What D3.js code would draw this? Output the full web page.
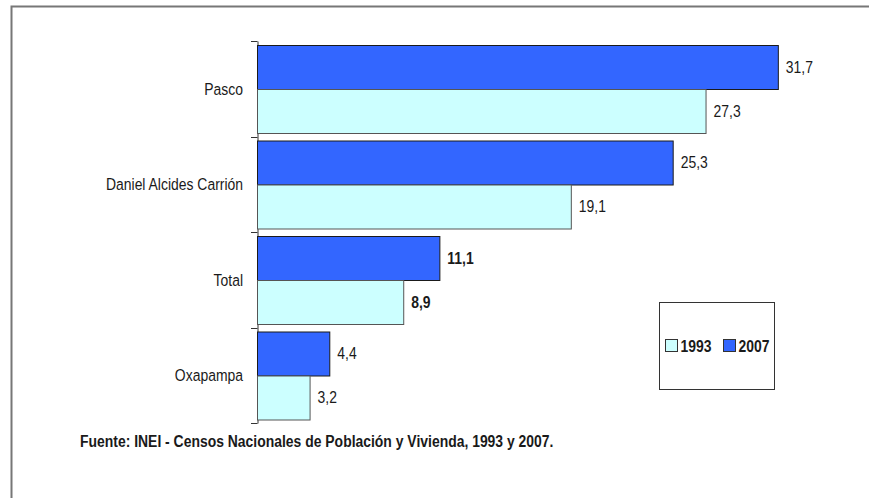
<html>
<head>
<style type="text/css">
  body { margin: 0; background: #fff; }
  text { font-family: "Liberation Sans", Arial, sans-serif; fill: #1a1a1a; }
</style>
</head>
<body>
<svg id="viewport" width="869" height="498"></svg>
<script src="https://cdn.jsdelivr.net/npm/d3@7"></script>
<script>
  var svg = d3.select("svg");

  // DATA
  var categories = ["Pasco", "Daniel Alcides Carrión", "Total", "Oxapampa"];
  var years = ["2007", "1993"];
  var values2007 = [31.7, 25.3, 11.1, 4.4];
  var values1993 = [27.3, 19.1, 8.9, 3.2];
  var legendYears = ["1993", "2007"];

  var colours = {"2007": "#3366ff", "1993": "#ccffff"};
  var strokes = {"2007": "#1a1a1a", "1993": "#555"};

  // narrow font: squeeze Liberation Sans horizontally
  var narrow = 0.82;
  function place(x, y) {
    return "translate(" + x + "," + y + ") scale(" + narrow + ",1)";
  }

  var rows = categories.map(function(c, i) {
    return {cat: c, bold: c == "Total", vals: [{year: "2007", v: values2007[i]}, {year: "1993", v: values1993[i]}]};
  });

  // outer frame (only top and left edges fall inside the picture)
  svg.append("rect")
    .attr("x", 11.5).attr("y", 6.5)
    .attr("width", 1000).attr("height", 1000)
    .attr("fill", "none").attr("stroke", "#777").attr("stroke-width", 2);

  // scales
  var x = d3.scaleLinear().domain([0, 35]).range([257, 257 + 35 * 16.43]);
  var y = d3.scaleBand().domain(categories).range([41, 423]);
  var yInner = d3.scaleBand().domain(years).range([4, y.bandwidth() - 4]);

  // axis
  var axis = svg.append("g")
    .attr("transform", "translate(257.5,0)")
    .call(d3.axisLeft(y).tickSize(0).tickFormat(""));
  axis.select(".domain").attr("stroke", "#333");

  // ticks between categories
  svg.append("g").selectAll("line")
    .data(d3.range(categories.length + 1))
    .enter().append("line")
    .attr("x1", 251).attr("x2", 257.5)
    .attr("y1", function(i) { return Math.round(41 + i * y.step()) + 0.5; })
    .attr("y2", function(i) { return Math.round(41 + i * y.step()) + 0.5; })
    .attr("stroke", "#333");

  // category labels
  svg.append("g").selectAll("text")
    .data(categories)
    .enter().append("text")
    .attr("transform", function(d) { return place(243, y(d) + y.bandwidth() / 2); })
    .attr("dy", "0.35em")
    .attr("text-anchor", "end")
    .attr("font-size", 17)
    .text(function(d) { return d; });

  // bars
  var group = svg.append("g").selectAll("g")
    .data(rows)
    .enter().append("g")
    .attr("transform", function(d) { return "translate(0," + y(d.cat) + ")"; });

  group.selectAll("rect")
    .data(function(d) { return d.vals; })
    .enter().append("rect")
    .attr("x", x(0) + 0.5)
    .attr("y", function(d) { return Math.round(yInner(d.year)) + 0.5; })
    .attr("width", function(d) { return x(d.v) - x(0); })
    .attr("height", Math.round(yInner.bandwidth()))
    .attr("fill", function(d) { return colours[d.year]; })
    .attr("stroke", function(d) { return strokes[d.year]; });

  group.each(function(r) {
    d3.select(this).selectAll("text.val")
      .data(r.vals)
      .enter().append("text")
      .attr("class", "val")
      .attr("transform", function(d) { return place(x(d.v) + 8, yInner(d.year) + yInner.bandwidth() / 2); })
      .attr("dy", "0.35em")
      .attr("font-size", 17)
      .attr("font-weight", r.bold ? "bold" : "normal")
      .text(function(d) { return d3.format(".1f")(d.v).replace(".", ","); });
  });

  // legend
  var legend = svg.append("g").attr("transform", "translate(659.5,302.5)");
  legend.append("rect")
    .attr("width", 115).attr("height", 87)
    .attr("fill", "#fff").attr("stroke", "#333");
  var li = legend.selectAll("g")
    .data(legendYears)
    .enter().append("g")
    .attr("transform", function(d, i) { return "translate(" + (6 + i * 58) + ",37)"; });
  li.append("rect")
    .attr("width", 12).attr("height", 12)
    .attr("fill", function(d) { return colours[d]; })
    .attr("stroke", "#333");
  li.append("text")
    .attr("transform", place(15, 6.5))
    .attr("dy", "0.36em")
    .attr("font-size", 17).attr("font-weight", "bold")
    .text(function(d) { return d; });

  // source note
  svg.append("text")
    .attr("transform", place(80, 447))
    .attr("font-size", 17).attr("font-weight", "bold")
    .text("Fuente: INEI - Censos Nacionales de Población y Vivienda, 1993 y 2007.");
</script>
</body>
</html>
